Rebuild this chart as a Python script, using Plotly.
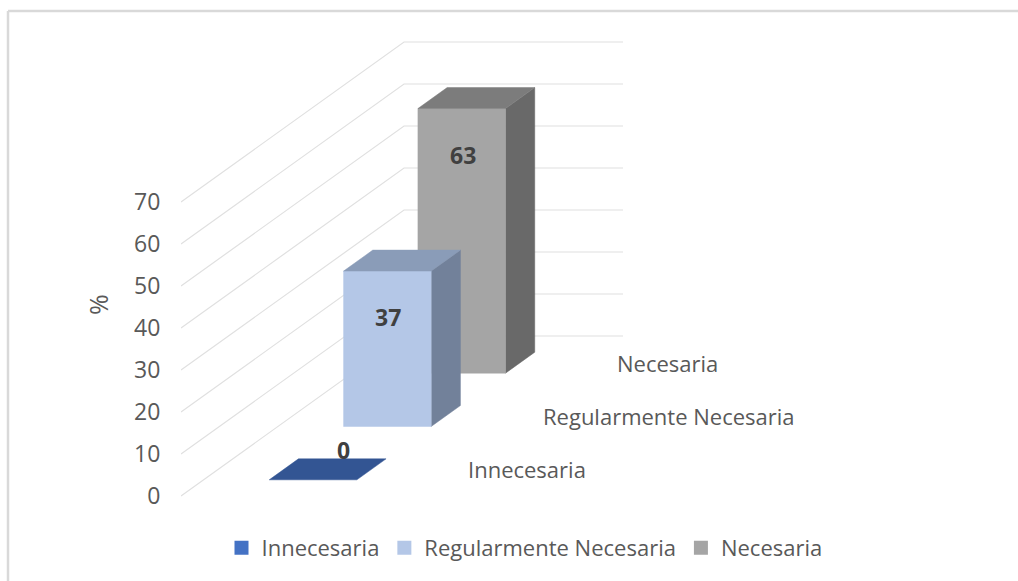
import plotly.graph_objects as go

# --- data ---
categories = ["Innecesaria", "Regularmente Necesaria", "Necesaria"]
values = [0, 37, 63]
tick_values = [0, 10, 20, 30, 40, 50, 60, 70]
axis_title = "%"
front_colors = ["#3F6BBA", "#B4C7E7", "#A5A5A5"]
top_colors = ["#335593", "#8A9CB8", "#7C7C7C"]
side_colors = ["#2C4A80", "#72819A", "#696969"]
legend_colors = ["#4472C4", "#B4C7E7", "#A5A5A5"]

# --- oblique 3D model: x in wall widths, d in wall depth, v in % ---
W, H = 1018, 581
PX_PER_X = 219.0
PX_PER_V = 4.2
AXIS_LEFT = 181
ZERO_PX = 496
DEPTH_DX = 223 / PX_PER_X
DEPTH_DV = 160 / PX_PER_V
BAR_W = 0.4
BAR_HALF_D = 0.0655
TEXT = "#595959"
FONT = "Open Sans"
FS = 22


def proj(x, d, v):
    return x + DEPTH_DX * d, v + DEPTH_DV * d


def poly(corners, color):
    pts = [proj(*c) for c in corners] + [proj(*corners[0])]
    return go.Scatter(
        x=[p[0] for p in pts], y=[p[1] for p in pts], mode="lines", fill="toself",
        fillcolor=color, line=dict(color=color, width=0.5),
        hoverinfo="skip", showlegend=False,
    )


fig = go.Figure()

# walls' gridlines
gx, gy = [], []
for t in tick_values:
    for c in [(0, 0, t), (0, 1, t), (1, 1, t)]:
        px, py = proj(*c)
        gx.append(px)
        gy.append(py)
    gx.append(None)
    gy.append(None)
fig.add_trace(go.Scatter(x=gx, y=gy, mode="lines", line=dict(color="#E0E0E0", width=1.2),
                         hoverinfo="skip", showlegend=False))

# bars, back to front
n = len(categories)
for i in reversed(range(n)):
    v = values[i]
    dc = (i + 0.5) / n
    d0, d1 = dc - BAR_HALF_D, dc + BAR_HALF_D
    x0, x1 = 0.5 - BAR_W / 2, 0.5 + BAR_W / 2
    if v > 0:
        fig.add_trace(poly([(x1, d0, 0), (x1, d1, 0), (x1, d1, v), (x1, d0, v)], side_colors[i]))
        fig.add_trace(poly([(x0, d0, 0), (x1, d0, 0), (x1, d0, v), (x0, d0, v)], front_colors[i]))
    fig.add_trace(poly([(x0, d0, v), (x1, d0, v), (x1, d1, v), (x0, d1, v)], top_colors[i]))

annotations = []
# value labels
for i, v in enumerate(values):
    dc = (i + 0.5) / n
    if v > 0:
        px, py = proj(0.5, dc - BAR_HALF_D, v - 11)
    else:
        px, py = proj(0.5, dc + BAR_HALF_D, v + 2)
    annotations.append(dict(x=px, y=py, text=f"<b>{v}</b>", showarrow=False, xanchor="center",
                            yanchor="middle", xshift=1,
                            font=dict(family=FONT, size=23, color="#404040")))

# category labels along the floor edge
for i, cat in enumerate(categories):
    px, py = proj(1, (i + 0.5) / n, 0)
    annotations.append(dict(x=px, y=py, text=cat, showarrow=False, xanchor="left", xshift=29,
                            yanchor="middle", font=dict(family=FONT, size=FS, color=TEXT)))

# axis title
annotations.append(dict(xref="paper", yref="paper", x=(98 - AXIS_LEFT) / (W - AXIS_LEFT), y=1 - 305 / H,
                        text=axis_title, textangle=-90, showarrow=False, xanchor="center",
                        yanchor="middle", font=dict(family=FONT, size=25, color=TEXT)))

# legend entries
for cat, col in zip(categories, legend_colors):
    fig.add_trace(go.Scatter(x=[None], y=[None], mode="markers", name=cat,
                             marker=dict(symbol="square", size=14, color=col)))

# chart border fragments (top and left only)
bx = (8 - AXIS_LEFT) / (W - AXIS_LEFT)
by = 1 - 11 / H
border = [
    dict(type="line", xref="paper", yref="paper", x0=bx, x1=1, y0=by, y1=by,
         line=dict(color="#D9D9D9", width=2.5)),
    dict(type="line", xref="paper", yref="paper", x0=bx, x1=bx, y0=by, y1=0,
         line=dict(color="#D9D9D9", width=2.5)),
]

fig.update_layout(
    width=W, height=H, margin=dict(l=AXIS_LEFT, r=0, t=0, b=0),
    paper_bgcolor="white", plot_bgcolor="white",
    font=dict(family=FONT, color=TEXT, size=FS),
    xaxis=dict(range=[0, (W - AXIS_LEFT) / PX_PER_X], visible=False, fixedrange=True),
    yaxis=dict(range=[(ZERO_PX - H) / PX_PER_V, ZERO_PX / PX_PER_V], tickmode="array",
               tickvals=tick_values, ticks="outside", ticklen=15, tickcolor="rgba(0,0,0,0)",
               showgrid=False, zeroline=False, showline=False,
               tickfont=dict(family=FONT, size=23, color=TEXT), fixedrange=True),
    legend=dict(orientation="h", x=(524.5 - AXIS_LEFT) / (W - AXIS_LEFT), xanchor="center",
                y=1 - 548 / H, yanchor="middle", font=dict(family=FONT, size=FS, color=TEXT),
                itemwidth=30, bgcolor="rgba(0,0,0,0)"),
    annotations=annotations, shapes=border, showlegend=True,
)

fig.write_html("out.html", config={"displayModeBar": False},
               post_script="document.body.style.margin='0';document.documentElement.style.overflow='hidden';")
